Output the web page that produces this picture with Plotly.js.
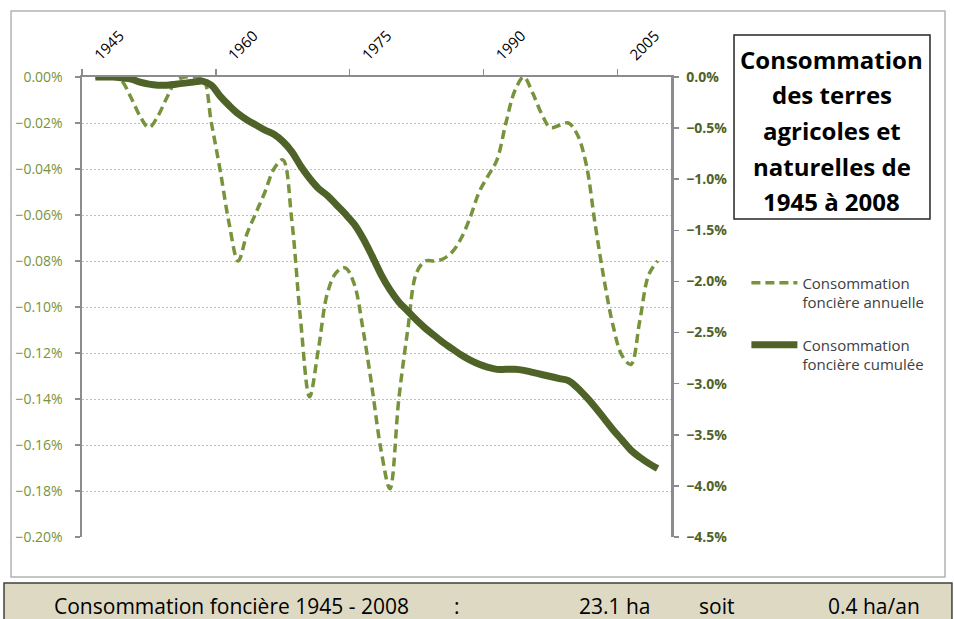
<!DOCTYPE html>
<html>
<head>
<meta charset="utf-8">
<script src="https://cdn.plot.ly/plotly-3.0.1.min.js"></script>
<style>
html,body{margin:0;padding:0;background:#ffffff;}
#chart{width:954px;height:619px;}
</style>
</head>
<body>
<div id="chart"></div>
<script>
// ---- Data ----
const years = [1945,1946,1947,1948,1949,1950,1951,1952,1953,1954,1955,1956,1957,1958,1959,1960,
  1961,1962,1963,1964,1965,1966,1967,1968,1969,1970,1971,1972,1973,1974,1975,1976,
  1977,1978,1979,1980,1981,1982,1983,1984,1985,1986,1987,1988,1989,1990,1991,1992,
  1993,1994,1995,1996,1997,1998,1999,2000,2001,2002,2003,2004,2005,2006,2007,2008];

// annual land consumption, % (left axis)
const annual = [0,0,0,-0.002,-0.009,-0.017,-0.022,-0.017,-0.009,-0.002,0,0,0,-0.020,-0.041,-0.064,
  -0.080,-0.068,-0.059,-0.050,-0.040,-0.036,-0.062,-0.106,-0.139,-0.118,-0.094,-0.085,-0.083,-0.090,-0.110,-0.135,
  -0.162,-0.179,-0.140,-0.110,-0.085,-0.080,-0.080,-0.079,-0.076,-0.070,-0.061,-0.050,-0.043,-0.036,-0.020,-0.006,
  0,-0.007,-0.016,-0.022,-0.021,-0.020,-0.025,-0.038,-0.064,-0.088,-0.108,-0.121,-0.125,-0.106,-0.086,-0.080];

// cumulated land consumption, % (right axis)
const cumulative = [0,0,0,-0.01,-0.02,-0.05,-0.07,-0.08,-0.08,-0.07,-0.06,-0.05,-0.04,-0.08,-0.19,-0.28,
  -0.36,-0.42,-0.47,-0.52,-0.56,-0.63,-0.73,-0.87,-0.99,-1.09,-1.16,-1.25,-1.34,-1.44,-1.58,-1.75,
  -1.93,-2.08,-2.20,-2.29,-2.38,-2.46,-2.53,-2.60,-2.66,-2.72,-2.77,-2.81,-2.84,-2.86,-2.86,-2.86,
  -2.87,-2.89,-2.91,-2.93,-2.95,-2.97,-3.04,-3.13,-3.23,-3.34,-3.45,-3.55,-3.65,-3.72,-3.78,-3.83];

const xTickYears = [1945,1960,1975,1990,2005];
const xTickLabels = ['1945','1960','1975','1990','2005'];
const seriesNames = ['Consommation<br>foncière annuelle','Consommation<br>foncière cumulée'];
const titleLines = ['Consommation','des terres','agricoles et','naturelles de','1945 à 2008'];
const footerTexts = ['Consommation foncière 1945 - 2008',':','23.1 ha','soit','0.4 ha/an'];

// ---- Traces ----
const traces = [
  {
    x: years, y: annual, name: seriesNames[0], type: 'scatter', mode: 'lines',
    xaxis: 'x', yaxis: 'y', legendgroup: 'a',
    line: {color: '#77933C', width: 3.5, dash: '9px,5px', shape: 'spline', smoothing: 1}
  },
  {
    x: years, y: cumulative, name: seriesNames[1], type: 'scatter', mode: 'lines',
    xaxis: 'x', yaxis: 'y2', legendgroup: 'b',
    line: {color: '#4F6228', width: 7, shape: 'spline', smoothing: 1}
  }
];

const titleY = [1.0391, 0.9615, 0.8839, 0.8063, 0.7287];
const annotations = titleLines.map((t, i) => ({
  text: t, xref: 'paper', yref: 'paper', x: 1.2733, y: titleY[i],
  xanchor: 'center', yanchor: 'middle', showarrow: false,
  font: {family: 'Open Sans, sans-serif', size: 24, color: '#000000', weight: 'bold'}
}));

const footerX = [-0.0509, 0.6367, 0.8404, 1.0441, 1.2632];
const footerAnchor = ['left','center','left','left','left'];
footerTexts.forEach((t, i) => {
  annotations.push({
    text: t, xref: 'paper', yref: 'paper', x: footerX[i], y: -0.15,
    xanchor: footerAnchor[i], yanchor: 'middle', showarrow: false,
    font: {family: 'Open Sans, sans-serif', size: 21, color: '#000000'}
  });
});

const layout = {
  width: 954, height: 619,
  margin: {l: 82, r: 283, t: 77, b: 82, pad: 0},
  paper_bgcolor: '#ffffff', plot_bgcolor: '#ffffff',
  font: {family: 'Open Sans, sans-serif', color: '#404040'},
  showlegend: true,
  legend: {
    x: 1.128, y: 0.588, xanchor: 'left', yanchor: 'top', valign: 'top',
    font: {family: 'Open Sans, sans-serif', size: 15, color: '#404040'},
    itemwidth: 46,
    tracegroupgap: 20, bgcolor: 'rgba(0,0,0,0)', borderwidth: 0
  },
  xaxis: {
    range: [1943.5, 2009.5], side: 'top', anchor: 'y',
    tickmode: 'array', tickvals: xTickYears, ticktext: xTickLabels,
    tickangle: -45, ticks: '', ticklabelstandoff: 5,
    tickfont: {family: 'Open Sans, sans-serif', size: 15, color: '#000000'},
    showline: true, linecolor: '#8c8c8c', linewidth: 2.5,
    showgrid: false, zeroline: false,
    minor: {tickmode: 'linear', tick0: 1943.5, dtick: 15, ticks: 'outside', ticklen: 6,
            tickcolor: '#8c8c8c', tickwidth: 1.5, showgrid: false}
  },
  yaxis: {
    range: [-0.2, 0], tickmode: 'linear', tick0: 0, dtick: 0.02,
    tickformat: '.2f', ticksuffix: '%', ticklabelstandoff: 9,
    tickfont: {family: 'Open Sans, sans-serif', size: 14, color: '#77933C'},
    ticks: 'outside', ticklen: 5, tickcolor: '#8c8c8c', tickwidth: 1.5,
    showline: true, linecolor: '#8c8c8c', linewidth: 2.5,
    showgrid: true, gridcolor: '#bdbdbd', griddash: '2px,2px', gridwidth: 1,
    zeroline: false
  },
  yaxis2: {
    range: [-4.5, 0], tickmode: 'linear', tick0: 0, dtick: 0.5,
    tickformat: '.1f', ticksuffix: '%', ticklabelstandoff: 5,
    overlaying: 'y', side: 'right', anchor: 'x',
    tickfont: {family: 'Open Sans, sans-serif', size: 14, color: '#4F6228', weight: 'bold'},
    ticks: 'outside', ticklen: 5, tickcolor: '#8c8c8c', tickwidth: 1.5,
    showline: true, linecolor: '#8c8c8c', linewidth: 2.5,
    showgrid: false, zeroline: false
  },
  shapes: [
    {type: 'rect', xref: 'paper', yref: 'paper', x0: -0.1205, x1: 1.4652, y0: -0.087, y1: 1.1435,
     line: {color: '#b3b3b3', width: 1.5}, fillcolor: 'rgba(0,0,0,0)', layer: 'below'},
    {type: 'rect', xref: 'paper', yref: 'paper', x0: 1.1070, x1: 1.4397, y0: 0.6913, y1: 1.0913,
     line: {color: '#262626', width: 1.5}, fillcolor: '#ffffff', layer: 'below'},
    {type: 'rect', xref: 'paper', yref: 'paper', x0: -0.1324, x1: 1.477, y0: -0.1913, y1: -0.1,
     line: {color: '#404040', width: 1.5}, fillcolor: '#DDD9C3', layer: 'below'}
  ],
  annotations: annotations
};

Plotly.newPlot('chart', traces, layout, {displayModeBar: false, staticPlot: true});
</script>
</body>
</html>
